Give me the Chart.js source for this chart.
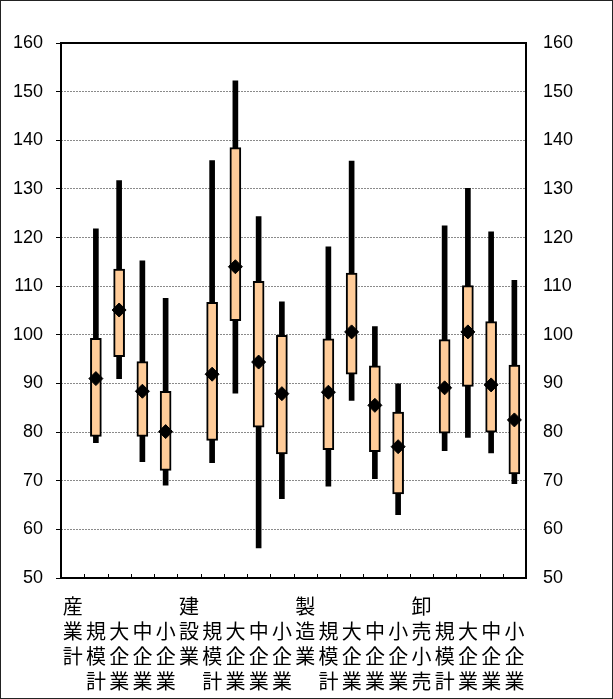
<!DOCTYPE html>
<html>
<head>
<meta charset="utf-8">
<script src="https://cdn.jsdelivr.net/npm/chart.js@4.4.0/dist/chart.umd.min.js"></script>
<style>
	html, body { margin: 0; padding: 0; background: #fff; }
	#wrap { width: 613px; height: 699px; position: relative; }
</style>
</head>
<body>
<div id="wrap"><canvas id="chart"></canvas></div>
<script>
// Categorías (20 posiciones; las cabeceras de grupo no llevan datos)
const categories = [
	"産業計", "規模計", "大企業", "中企業", "小企業",
	"建設業", "規模計", "大企業", "中企業", "小企業",
	"製造業", "規模計", "大企業", "中企業", "小企業",
	"卸売小売", "規模計", "大企業", "中企業", "小企業",
];
const groupHeads = ["産業計", "建設業", "製造業", "卸売小売"];

// Valores
const minVals  = [null, 77.8, 91.0, 73.9, 69.1, null, 73.7, 88.0, 56.2, 66.3, null, 68.9, 86.5, 70.4, 63.0, null, 76.2, 78.9, 75.7, 69.4];
const q1Vals   = [null, 79.1, 95.5, 79.1, 72.1, null, 78.3, 102.9, 81.0, 75.5, null, 76.4, 91.9, 76.0, 67.3, null, 79.8, 89.4, 80.0, 71.4];
const meanVals = [null, 91.0, 105.1, 88.4, 80.1, null, 91.9, 114.0, 94.4, 87.9, null, 88.2, 100.6, 85.5, 77.0, null, 89.1, 100.6, 89.7, 82.5];
const q3Vals   = [null, 99.3, 113.5, 94.5, 88.4, null, 106.7, 138.5, 111.0, 99.9, null, 99.2, 112.7, 93.6, 84.1, null, 99.0, 110.1, 102.7, 93.8];
const maxVals  = [null, 121.8, 131.7, 115.2, 107.5, null, 135.8, 152.2, 124.3, 106.8, null, 118.1, 135.7, 101.7, 89.9, null, 122.4, 130.1, 121.2, 111.2];

const yTicks = [50, 60, 70, 80, 90, 100, 110, 120, 130, 140, 150, 160];

// etiquetas verticales: las de grupo empiezan en la primera fila
const labels = categories.map((name) =>
	groupHeads.includes(name) ? [...name] : ["", ...name]
);

const range = (lo, hi) => lo.map((v, i) => (v == null ? null : [v, hi[i]]));

// marco del área, marcas del eje x y borde exterior
const framePlugin = {
	id: "frame",
	afterDraw(chart) {
		const { ctx, chartArea: a, scales } = chart;
		const x = scales.x;
		ctx.save();
		ctx.strokeStyle = "#000";
		ctx.lineWidth = 1;
		for (let i = 1; i < categories.length; i++) {
			const px = Math.round((x.getPixelForValue(i - 1) + x.getPixelForValue(i)) / 2) + 0.5;
			ctx.beginPath();
			ctx.moveTo(px, a.bottom);
			ctx.lineTo(px, a.bottom - 4);
			ctx.stroke();
		}
		ctx.lineWidth = 2;
		ctx.strokeRect(a.left, a.top, a.right - a.left, a.bottom - a.top);
		ctx.lineWidth = 1;
		ctx.strokeStyle = "#222";
		ctx.strokeRect(0.5, 0.5, chart.width - 1, chart.height - 1);
		ctx.restore();
	},
};

const tickFont = { family: "'Liberation Sans', Arial, sans-serif", size: 18 };

new Chart(document.getElementById("chart"), {
	type: "bar",
	data: {
		labels: labels,
		datasets: [
			{
				type: "line",
				label: "平均",
				data: meanVals,
				showLine: false,
				pointStyle: "rectRot",
				pointRadius: 7,
				pointBorderWidth: 1,
				pointBackgroundColor: "#000",
				pointBorderColor: "#000",
				order: 1,
			},
			{
				label: "箱",
				data: range(q1Vals, q3Vals),
				backgroundColor: "#FFCC99",
				borderColor: "#000",
				borderWidth: 2,
				borderSkipped: false,
				barThickness: 11,
				grouped: false,
				order: 2,
			},
			{
				label: "範囲",
				data: range(minVals, maxVals),
				backgroundColor: "#000",
				borderWidth: 0,
				barThickness: 5,
				grouped: false,
				order: 3,
			},
		],
	},
	options: {
		responsive: true,
		maintainAspectRatio: false,
		animation: false,
		layout: { padding: { top: 43, left: 0, right: 0, bottom: 0 } },
		plugins: {
			legend: { display: false },
			tooltip: { enabled: false },
		},
		scales: {
			x: {
				position: "bottom",
				grid: { display: false, drawTicks: false },
				border: { display: false },
				ticks: {
					autoSkip: false,
					maxRotation: 0,
					minRotation: 0,
					padding: 16,
					color: "#000",
					font: { family: "'Noto Sans CJK JP', sans-serif", size: 20, lineHeight: 1.25 },
				},
				afterFit: (s) => { s.height = 121; },
			},
			y: {
				position: "left",
				min: 50,
				max: 160,
				afterBuildTicks: (s) => { s.ticks = yTicks.map((v) => ({ value: v })); },
				grid: {
					color: "#8a8a8a",
					lineWidth: 1,
					drawTicks: true,
					tickLength: 5,
					tickColor: "#000",
					tickBorderDash: [],
				},
				border: { display: false, dash: [2, 1] },
				ticks: { padding: 13, color: "#000", font: tickFont },
				afterFit: (s) => { s.width = 61; },
			},
			y2: {
				position: "right",
				min: 50,
				max: 160,
				afterBuildTicks: (s) => { s.ticks = yTicks.map((v) => ({ value: v })); },
				grid: { display: false, drawTicks: false },
				border: { display: false },
				ticks: { padding: 17, color: "#000", font: tickFont },
				afterFit: (s) => { s.width = 87; },
			},
		},
	},
	plugins: [framePlugin],
});
</script>
</body>
</html>
